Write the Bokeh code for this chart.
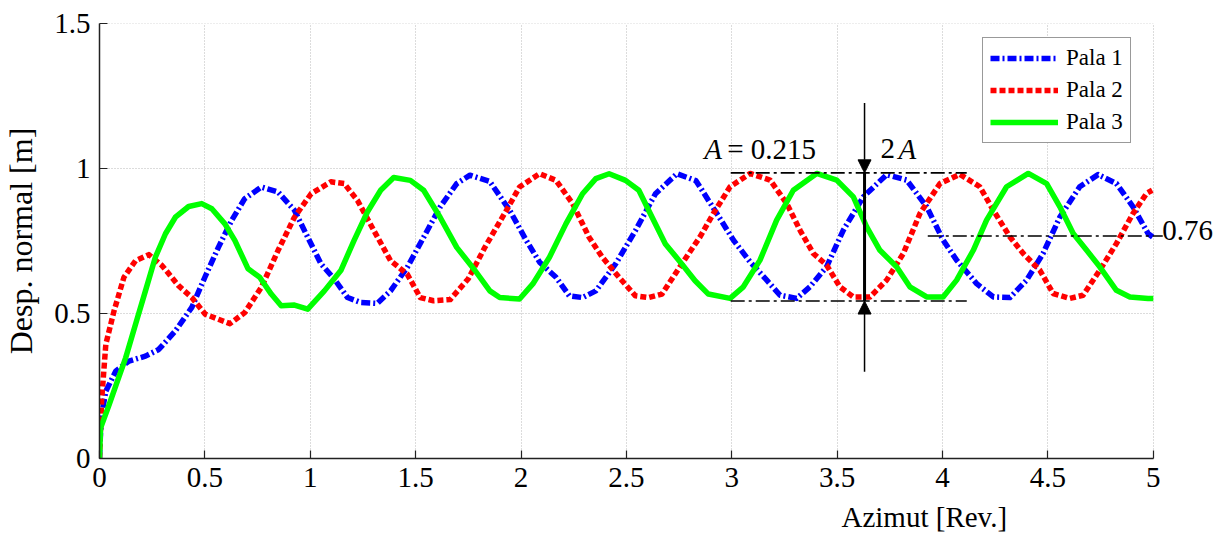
from bokeh.plotting import figure
from bokeh.models import (Range1d, FixedTicker, Label, Arrow, NormalHead, Legend, LegendItem, Title)
from bokeh.embed import file_html
from bokeh.resources import INLINE

# ---------------- data ----------------
pala1_x = [0.0, 0.005, 0.015, 0.03, 0.077, 0.14, 0.218, 0.281, 0.36, 0.438, 0.50, 0.564, 0.627, 0.689,
           0.768, 0.847, 0.925, 0.988, 1.051, 1.114, 1.177, 1.239, 1.318, 1.381, 1.46, 1.538, 1.616,
           1.695, 1.758, 1.852, 1.946, 2.025, 2.088, 2.166, 2.229, 2.292, 2.355, 2.449, 2.543, 2.638,
           2.74, 2.83, 2.929, 3.008, 3.087, 3.166, 3.229, 3.308, 3.371, 3.45, 3.529, 3.624, 3.735,
           3.83, 3.925, 4.003, 4.067, 4.162, 4.241, 4.32, 4.399, 4.477, 4.557, 4.651, 4.738, 4.825,
           4.904, 4.975, 5.0]
pala1_y = [0.0, 0.09, 0.17, 0.232, 0.301, 0.336, 0.353, 0.376, 0.44, 0.521, 0.625, 0.728, 0.821, 0.896,
           0.936, 0.919, 0.856, 0.763, 0.671, 0.619, 0.555, 0.538, 0.535, 0.578, 0.659, 0.763, 0.867,
           0.948, 0.977, 0.955, 0.856, 0.752, 0.677, 0.625, 0.561, 0.555, 0.578, 0.671, 0.786, 0.913,
           0.982, 0.958, 0.845, 0.753, 0.678, 0.615, 0.563, 0.552, 0.592, 0.661, 0.787, 0.902, 0.979,
           0.96, 0.868, 0.753, 0.684, 0.603, 0.557, 0.555, 0.615, 0.707, 0.833, 0.937, 0.979, 0.948,
           0.868, 0.776, 0.762]

pala2_x = [0.0, 0.01, 0.03, 0.069, 0.116, 0.171, 0.234, 0.297, 0.375, 0.438, 0.501, 0.564, 0.619, 0.689,
           0.768, 0.847, 0.925, 1.004, 1.098, 1.161, 1.224, 1.302, 1.381, 1.46, 1.522, 1.585, 1.664,
           1.75, 1.83, 1.931, 1.993, 2.088, 2.166, 2.245, 2.323, 2.386, 2.465, 2.543, 2.606, 2.669,
           2.763, 2.85, 2.913, 2.992, 3.087, 3.182, 3.261, 3.324, 3.387, 3.45, 3.513, 3.577, 3.656,
           3.735, 3.814, 3.893, 3.988, 4.082, 4.177, 4.241, 4.32, 4.383, 4.462, 4.525, 4.604, 4.667,
           4.746, 4.825, 4.904, 4.968, 4.995]
pala2_y = [0.0, 0.2, 0.394, 0.509, 0.625, 0.682, 0.703, 0.665, 0.596, 0.555, 0.498, 0.48, 0.465, 0.503,
           0.59, 0.717, 0.832, 0.913, 0.954, 0.948, 0.89, 0.786, 0.682, 0.636, 0.555, 0.544, 0.548,
           0.62, 0.73, 0.856, 0.936, 0.982, 0.959, 0.879, 0.763, 0.694, 0.625, 0.561, 0.555, 0.567,
           0.671, 0.765, 0.845, 0.937, 0.983, 0.96, 0.879, 0.787, 0.707, 0.667, 0.592, 0.557, 0.557,
           0.615, 0.707, 0.845, 0.948, 0.98, 0.937, 0.856, 0.764, 0.707, 0.649, 0.569, 0.552, 0.563,
           0.649, 0.741, 0.845, 0.914, 0.925]

pala3_x = [0.0, 0.005, 0.046, 0.085, 0.124, 0.171, 0.218, 0.265, 0.313, 0.36, 0.423, 0.485, 0.533, 0.595,
           0.642, 0.705, 0.76, 0.815, 0.862, 0.925, 0.988, 1.067, 1.145, 1.208, 1.271, 1.334, 1.396,
           1.475, 1.538, 1.616, 1.695, 1.78, 1.852, 1.899, 1.993, 2.056, 2.135, 2.213, 2.292, 2.355,
           2.418, 2.496, 2.559, 2.622, 2.685, 2.763, 2.826, 2.889, 2.992, 3.055, 3.134, 3.213, 3.292,
           3.403, 3.498, 3.577, 3.64, 3.703, 3.782, 3.845, 3.925, 4.003, 4.067, 4.146, 4.209, 4.304,
           4.407, 4.494, 4.557, 4.62, 4.684, 4.746, 4.825, 4.889, 4.975, 5.0]
pala3_y = [0.0, 0.105, 0.186, 0.267, 0.347, 0.463, 0.578, 0.694, 0.775, 0.832, 0.869, 0.879, 0.861, 0.809,
           0.752, 0.654, 0.625, 0.567, 0.527, 0.529, 0.515, 0.578, 0.648, 0.752, 0.85, 0.925, 0.969,
           0.959, 0.925, 0.832, 0.728, 0.65, 0.578, 0.555, 0.55, 0.602, 0.694, 0.809, 0.913, 0.965,
           0.982, 0.959, 0.925, 0.832, 0.74, 0.671, 0.613, 0.567, 0.552, 0.592, 0.684, 0.822, 0.925,
           0.983, 0.96, 0.902, 0.799, 0.718, 0.661, 0.592, 0.557, 0.557, 0.615, 0.718, 0.822, 0.937,
           0.983, 0.948, 0.868, 0.776, 0.718, 0.661, 0.58, 0.557, 0.552, 0.552]

series_names = ["Pala 1", "Pala 2", "Pala 3"]
x_ticks = [0, 0.5, 1, 1.5, 2, 2.5, 3, 3.5, 4, 4.5, 5]
x_tick_labels = ["0", "0.5", "1", "1.5", "2", "2.5", "3", "3.5", "4", "4.5", "5"]
y_ticks = [0, 0.5, 1, 1.5]
y_tick_labels = ["0", "0.5", "1", "1.5"]

# amplitude annotation values
amp_max = 0.985
amp_min = 0.543
amp_mean = 0.767
amp_value_text = "= 0.215"
mean_text = "0.76"
band_x = [2.995, 4.115]        # extent of the max/min reference lines
mean_x = [3.93, 5.045]         # extent of the mean reference line
arrow_x = 3.63
arrow_top = 1.226
arrow_bottom = 0.299

X_MAX = 5.0
FONT = "Liberation Serif"

p = figure(width=1221, height=548, output_backend="svg", toolbar_location=None,
           x_range=Range1d(0, 5.3), y_range=Range1d(0, 1.5),
           min_border_left=98, min_border_right=5, min_border_top=23, min_border_bottom=90)
p.outline_line_color = None
p.background_fill_color = "white"

# grid (vertical lines via the grid, horizontal ones limited to the 0..5 axis span)
p.xgrid.ticker = FixedTicker(ticks=x_ticks)
p.xgrid.grid_line_color = "#b8b8b8"
p.xgrid.grid_line_dash = "1 2"
p.xgrid.grid_line_width = 1
p.ygrid.visible = False
p.segment(x0=[0] * len(y_ticks), x1=[X_MAX] * len(y_ticks), y0=y_ticks, y1=y_ticks,
          line_color="#b8b8b8", line_dash="1 2", line_width=1)

# axes
p.xaxis.ticker = FixedTicker(ticks=x_ticks)
p.xaxis.bounds = (0, X_MAX)
p.yaxis.ticker = FixedTicker(ticks=y_ticks)
p.xaxis.major_label_overrides = {t: l for t, l in zip(x_ticks, x_tick_labels)}
p.yaxis.major_label_overrides = {t: l for t, l in zip(y_ticks, y_tick_labels)}
for ax in (p.xaxis, p.yaxis):
    ax.axis_line_color = "#222222"
    ax.axis_line_width = 1.5
    ax.major_tick_line_color = "#222222"
    ax.major_tick_line_width = 1.2
    ax.major_tick_in = 8
    ax.major_tick_out = 0
    ax.minor_tick_line_color = None
    ax.major_label_text_font = FONT
    ax.major_label_text_font_size = "29px"
    ax.major_label_text_color = "black"
    ax.major_label_standoff = 9
p.yaxis.axis_label = "Desp. normal [m]"
p.yaxis.axis_label_text_font = FONT
p.yaxis.axis_label_text_font_size = "32px"
p.yaxis.axis_label_text_font_style = "normal"
p.yaxis.axis_label_text_color = "black"
p.yaxis.axis_label_standoff = 12

p.add_layout(Title(text="Azimut [Rev.]", align="left", offset=742, standoff=18,
                   text_font=FONT, text_font_size="29px", text_font_style="normal",
                   text_color="black"), "below")

# series
r1 = p.line(pala1_x, pala1_y, line_color="#0000ff", line_width=5.5, line_dash="9 3 2 3",
            line_join="round")
r2 = p.line(pala2_x, pala2_y, line_color="#ff0000", line_width=5.5, line_dash="6 3",
            line_join="round")
r3 = p.line(pala3_x, pala3_y, line_color="#00ff00", line_width=5.5, line_join="round")

legend = Legend(items=[LegendItem(label=series_names[0], renderers=[r1]),
                       LegendItem(label=series_names[1], renderers=[r2]),
                       LegendItem(label=series_names[2], renderers=[r3])],
                location=(883, 315))
legend.label_text_font = FONT
legend.label_text_font_size = "23px"
legend.label_text_color = "black"
legend.glyph_width = 68
legend.glyph_height = 26
legend.label_height = 26
legend.label_standoff = 8
legend.spacing = 6
legend.padding = 7
legend.margin = 0
legend.border_line_color = "#333333"
legend.border_line_width = 1.5
legend.background_fill_alpha = 1
p.add_layout(legend)

# reference dash-dot lines
dd = "14 4 3 4"
p.line(band_x, [amp_max, amp_max], line_color="black", line_width=1.6, line_dash=dd)
p.line(band_x, [amp_min, amp_min], line_color="black", line_width=1.6, line_dash=dd)
p.line(mean_x, [amp_mean, amp_mean], line_color="black", line_width=1.6, line_dash=dd)

# 2A arrows
p.line([arrow_x, arrow_x], [amp_min, amp_max], line_color="black", line_width=3)
p.add_layout(Arrow(x_start=arrow_x, y_start=arrow_top, x_end=arrow_x, y_end=amp_max,
                   end=NormalHead(size=13, fill_color="black", line_color="black"),
                   line_color="black", line_width=1.5))
p.add_layout(Arrow(x_start=arrow_x, y_start=arrow_bottom, x_end=arrow_x, y_end=amp_min,
                   end=NormalHead(size=13, fill_color="black", line_color="black"),
                   line_color="black", line_width=1.5))

def txt(x, y, s, style="normal", **kw):
    lab = Label(x=x, y=y, text=s, text_font=FONT, text_font_size="29px", text_color="black",
                text_font_style=style, text_baseline="alphabetic", **kw)
    p.add_layout(lab)

txt(2.869, 1.068, "A", style="italic")
txt(2.978, 1.068, amp_value_text)
txt(3.706, 1.068, "2")
txt(3.791, 1.068, "A", style="italic")
txt(X_MAX, amp_mean, mean_text, x_offset=9, y_offset=6)

open("out.html", "w").write(file_html(p, INLINE))
